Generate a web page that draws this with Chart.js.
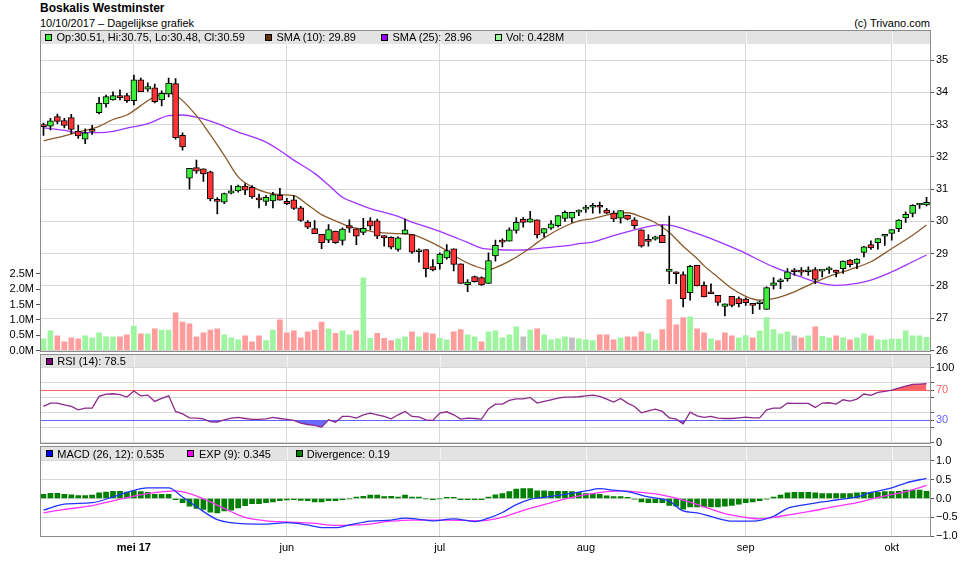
<!DOCTYPE html>
<html lang="nl">
<head>
<meta charset="utf-8">
<title>Boskalis Westminster</title>
<script src="https://cdn.jsdelivr.net/npm/chart.js@4.4.1/dist/chart.umd.min.js"></script>
<style>
  html, body { margin: 0; padding: 0; background: #fff; }
  body { position: relative; width: 970px; height: 572px; overflow: hidden;
         font-family: "Liberation Sans", Arial, sans-serif; font-size: 11px; color: #000; }
  .txt { position: absolute; white-space: nowrap; line-height: 14px; }
  .title { left: 40px; top: 1px; font-size: 12px; font-weight: bold; }
  .sub { left: 40px; top: 16px; }
  .copy { right: 40px; top: 16px; }
  .sq { position: absolute; width: 5px; height: 5px; border: 1px solid #000; }
  .box { position: absolute; left: 0; width: 970px; }
</style>
</head>
<body>
<div class="txt title">Boskalis Westminster</div>
<div class="txt sub">10/10/2017 – Dagelijkse grafiek</div>
<div class="txt copy">(c) Trivano.com</div>

<div class="box" style="top:20px;height:345px"><canvas id="priceChart"></canvas></div>
<div class="box" style="top:340px;height:112px"><canvas id="rsiChart"></canvas></div>
<div class="box" style="top:432px;height:140px"><canvas id="macdChart"></canvas></div>

<script>
// trading days per month (2017)
const daysApr = [10, 11, 12, 13, 18, 19, 20, 21, 24, 25, 26, 27, 28];
const daysMei = [2, 3, 4, 5, 8, 9, 10, 11, 12, 15, 16, 17, 18, 19, 22, 23, 24, 25, 26, 29, 30, 31];
const daysJun = [1, 2, 5, 6, 7, 8, 9, 12, 13, 14, 15, 16, 19, 20, 21, 22, 23, 26, 27, 28, 29, 30];
const daysJul = [3, 4, 5, 6, 7, 10, 11, 12, 13, 14, 17, 18, 19, 20, 21, 24, 25, 26, 27, 28, 31];
const daysAug = [1, 2, 3, 4, 7, 8, 9, 10, 11, 14, 15, 16, 17, 18, 21, 22, 23, 24, 25, 28, 29, 30, 31];
const daysSep = [1, 4, 5, 6, 7, 8, 11, 12, 13, 14, 15, 18, 19, 20, 21, 22, 25, 26, 27, 28, 29];
const daysOkt = [2, 3, 4, 5, 6, 9];
const monthLabels = ['mei 17', 'jun', 'jul', 'aug', 'sep', 'okt'];

const open = [
  33.00, 32.95, 33.25, 33.13, 33.22, 32.80, 32.55, 32.85, 33.37, 33.64,
  33.77, 33.85, 33.90, 33.74, 34.39, 34.10, 34.14, 33.77, 33.95, 34.27,
  32.67, 31.34, 31.67, 31.63, 31.54, 30.63, 30.60, 30.88, 30.95, 31.10,
  31.06, 30.68, 30.62, 30.64, 30.81, 30.62, 30.67, 30.42, 29.98, 29.78,
  29.60, 29.42, 29.70, 29.41, 29.87, 29.77, 29.66, 30.02, 30.02, 29.56,
  29.51, 29.13, 29.61, 29.59, 29.06, 29.13, 28.60, 28.69, 28.87, 29.15,
  28.69, 28.04, 28.29, 28.26, 28.08, 28.93, 29.37, 29.39, 29.72, 30.07,
  29.98, 30.05, 29.64, 29.79, 29.87, 30.09, 30.10, 30.29, 30.38, 30.44,
  30.45, 30.35, 30.26, 30.10, 30.20, 30.05, 29.74, 29.39, 29.45, 29.57,
  28.45, 28.39, 28.35, 27.79, 28.64, 28.02, 27.77, 27.71, 27.37, 27.68,
  27.61, 27.59, 27.41, 27.45, 27.27, 28.02, 28.13, 28.23, 28.46, 28.45,
  28.44, 28.51, 28.46, 28.50, 28.49, 28.54, 28.80, 28.70, 29.04, 29.28,
  29.34, 29.54, 29.63, 29.78, 30.11, 30.25, 30.51, 30.51
];
const high = [
  33.05, 33.20, 33.33, 33.20, 33.32, 32.98, 32.87, 32.98, 33.85, 33.92,
  34.02, 34.08, 33.97, 34.54, 34.44, 34.30, 34.26, 34.05, 34.44, 34.43,
  32.75, 31.65, 31.90, 31.63, 31.56, 30.74, 30.88, 31.11, 31.13, 31.17,
  31.11, 30.85, 30.80, 30.90, 31.03, 30.72, 30.80, 30.47, 30.03, 30.03,
  29.60, 29.90, 29.70, 29.80, 30.05, 29.77, 30.10, 30.12, 30.07, 29.56,
  29.52, 29.52, 30.07, 29.59, 29.15, 29.13, 28.82, 29.03, 29.28, 29.15,
  28.69, 28.20, 28.31, 28.28, 29.03, 29.42, 29.46, 29.80, 30.12, 30.12,
  30.31, 30.05, 29.78, 30.03, 30.18, 30.33, 30.28, 30.36, 30.50, 30.56,
  30.60, 30.41, 30.33, 30.34, 30.20, 30.12, 29.74, 29.59, 29.55, 29.88,
  30.17, 28.44, 28.44, 28.64, 28.64, 28.13, 28.07, 27.71, 27.45, 27.68,
  27.66, 27.63, 27.45, 27.54, 27.97, 28.26, 28.23, 28.54, 28.54, 28.57,
  28.59, 28.57, 28.49, 28.59, 28.49, 28.78, 28.82, 28.85, 29.23, 29.40,
  29.47, 29.60, 29.75, 30.06, 30.30, 30.52, 30.56, 30.75
];
const low = [
  32.67, 32.84, 33.03, 32.90, 32.72, 32.57, 32.41, 32.70, 33.33, 33.54,
  33.76, 33.77, 33.69, 33.61, 34.02, 34.03, 33.67, 33.58, 33.86, 32.55,
  32.21, 31.00, 31.49, 31.24, 30.64, 30.23, 30.55, 30.85, 30.91, 30.83,
  30.71, 30.42, 30.50, 30.42, 30.66, 30.52, 30.37, 30.00, 29.78, 29.62,
  29.16, 29.34, 29.32, 29.27, 29.66, 29.28, 29.59, 29.74, 29.47, 29.23,
  29.15, 29.08, 29.61, 29.01, 28.74, 28.28, 28.47, 28.52, 28.83, 28.47,
  28.08, 27.82, 28.12, 28.02, 28.08, 28.77, 29.21, 29.39, 29.64, 29.82,
  29.98, 29.49, 29.51, 29.75, 29.83, 30.00, 29.97, 30.18, 30.28, 30.26,
  30.26, 30.24, 29.99, 29.95, 30.05, 29.78, 29.20, 29.23, 29.42, 29.34,
  28.07, 28.07, 27.35, 27.56, 28.00, 27.66, 27.76, 27.40, 27.07, 27.35,
  27.35, 27.40, 27.14, 27.27, 27.27, 27.90, 27.92, 28.15, 28.33, 28.33,
  28.33, 28.07, 28.28, 28.39, 28.28, 28.39, 28.59, 28.54, 28.90, 29.13,
  29.14, 29.26, 29.42, 29.68, 29.97, 30.14, 30.40, 30.48
];
const close = [
  32.94, 33.12, 33.10, 32.98, 32.85, 32.65, 32.75, 32.79, 33.67, 33.87,
  33.90, 33.84, 33.74, 34.39, 34.02, 34.18, 33.71, 33.97, 34.29, 32.60,
  32.31, 31.65, 31.56, 31.47, 30.70, 30.62, 30.86, 30.95, 31.10, 30.97,
  30.76, 30.67, 30.75, 30.83, 30.66, 30.55, 30.40, 30.03, 29.82, 29.62,
  29.34, 29.75, 29.34, 29.76, 29.79, 29.54, 29.79, 29.85, 29.54, 29.49,
  29.20, 29.49, 29.74, 29.05, 29.07, 28.54, 28.50, 28.99, 29.10, 28.67,
  28.08, 28.12, 28.13, 28.03, 28.79, 29.26, 29.36, 29.74, 29.97, 29.97,
  30.08, 29.58, 29.78, 29.93, 30.18, 30.28, 30.28, 30.30, 30.38, 30.45,
  30.44, 30.26, 30.08, 30.34, 30.07, 29.87, 29.23, 29.38, 29.52, 29.34,
  28.52, 28.38, 27.61, 28.61, 28.00, 27.66, 27.76, 27.49, 27.45, 27.40,
  27.45, 27.48, 27.40, 27.45, 27.95, 28.10, 28.13, 28.44, 28.44, 28.43,
  28.46, 28.20, 28.47, 28.51, 28.42, 28.77, 28.66, 28.83, 29.21, 29.18,
  29.47, 29.60, 29.75, 30.04, 30.22, 30.50, 30.52, 30.59
];
// volume in millions
const volume = [
  0.38, 0.64, 0.48, 0.28, 0.41, 0.38, 0.48, 0.41, 0.58, 0.45,
  0.45, 0.45, 0.51, 0.80, 0.54, 0.54, 0.71, 0.67, 0.67, 1.23,
  0.93, 0.87, 0.45, 0.58, 0.67, 0.71, 0.51, 0.41, 0.35, 0.48,
  0.28, 0.48, 0.32, 0.67, 1.00, 0.58, 0.64, 0.41, 0.61, 0.67,
  0.93, 0.71, 0.56, 0.64, 0.51, 0.64, 2.37, 0.40, 0.56, 0.40,
  0.32, 0.38, 0.45, 0.61, 0.45, 0.58, 0.54, 0.40, 0.35, 0.61,
  0.68, 0.51, 0.45, 0.28, 0.61, 0.64, 0.41, 0.51, 0.77, 0.45,
  0.67, 0.71, 0.51, 0.35, 0.38, 0.45, 0.41, 0.38, 0.35, 0.32,
  0.51, 0.51, 0.35, 0.41, 0.45, 0.45, 0.61, 0.54, 0.35, 0.68,
  1.66, 0.84, 1.07, 1.10, 0.71, 0.58, 0.38, 0.32, 0.58, 0.48,
  0.41, 0.49, 0.41, 0.64, 1.07, 0.68, 0.54, 0.61, 0.48, 0.41,
  0.48, 0.77, 0.46, 0.41, 0.48, 0.41, 0.35, 0.41, 0.54, 0.48,
  0.35, 0.35, 0.37, 0.37, 0.64, 0.48, 0.48, 0.428
];
// moving averages: [day index, value]
const sma10Pts = [
  [0, 32.50], [3, 32.65], [5, 32.77], [8, 32.95], [10, 33.16], [12, 33.30], [14, 33.59],
  [16, 33.87], [18, 33.97], [19, 33.92], [22, 33.28], [24, 32.68], [26, 32.05], [28, 31.38],
  [30, 31.07], [32, 30.90], [34, 30.83], [36, 30.80], [38, 30.52], [40, 30.21], [42, 30.02],
  [44, 29.84], [46, 29.75], [48, 29.66], [51, 29.62], [53, 29.59], [56, 29.33], [58, 29.10],
  [60, 28.82], [62, 28.62], [64, 28.51], [65, 28.57], [67, 28.77], [69, 29.03], [72, 29.49],
  [75, 29.85], [77, 30.02], [79, 30.09], [82, 30.24], [84, 30.27], [86, 30.14], [88, 29.96],
  [90, 29.66], [92, 29.23], [94, 28.85], [95, 28.63], [97, 28.27], [99, 27.92], [101, 27.68],
  [103, 27.56], [105, 27.61], [108, 27.82], [110, 28.02], [113, 28.30], [116, 28.51],
  [119, 28.75], [122, 29.16], [125, 29.57], [127, 29.89]
];
const sma25Pts = [
  [0, 32.90], [3, 32.82], [5, 32.75], [8, 32.75], [10, 32.79], [12, 32.89], [15, 33.03],
  [18, 33.28], [20, 33.30], [22, 33.23], [25, 33.03], [28, 32.77], [32, 32.46], [34, 32.20],
  [36, 31.90], [39, 31.49], [41, 31.13], [43, 30.75], [45, 30.56], [47, 30.40], [49, 30.28],
  [51, 30.16], [53, 29.98], [55, 29.84], [57, 29.69], [59, 29.52], [61, 29.35], [63, 29.17],
  [65, 29.13], [68, 29.11], [70, 29.13], [72, 29.18], [75, 29.24], [77, 29.31], [79, 29.36],
  [82, 29.56], [85, 29.74], [87, 29.84], [89, 29.90], [91, 29.84], [93, 29.70], [96, 29.47],
  [100, 29.11], [105, 28.59], [109, 28.28], [111, 28.13], [114, 28.02], [117, 28.08],
  [119, 28.18], [122, 28.44], [125, 28.75], [127, 28.96]
];
const rsi = [
  48.2, 52.7, 52.7, 50.4, 48.2, 43.8, 46.0, 46.0, 61.6, 64.7,
  65.1, 63.8, 60.7, 68.7, 62.4, 63.3, 54.9, 58.9, 62.4, 41.6,
  38.4, 33.1, 32.7, 31.8, 27.8, 27.3, 30.4, 32.7, 33.6, 32.2,
  30.9, 30.9, 31.8, 33.6, 32.2, 30.9, 29.6, 26.0, 24.2, 22.9,
  20.7, 30.4, 27.3, 34.9, 34.9, 32.7, 37.1, 39.3, 37.1, 34.9,
  31.8, 37.1, 41.6, 34.9, 34.4, 30.4, 29.6, 39.3, 41.1, 37.1,
  31.3, 32.7, 32.2, 31.3, 45.0, 51.3, 51.3, 56.2, 58.4, 58.4,
  60.2, 52.7, 54.9, 57.1, 59.3, 60.7, 60.7, 61.1, 62.4, 63.3,
  61.6, 58.0, 54.0, 58.9, 52.7, 48.2, 39.8, 42.4, 44.7, 41.6,
  33.1, 31.3, 25.1, 40.7, 35.8, 33.6, 34.9, 32.7, 32.2, 32.2,
  33.1, 34.0, 33.1, 33.1, 43.8, 46.0, 46.0, 52.7, 52.2, 52.2,
  52.2, 46.9, 52.7, 53.1, 51.3, 57.1, 55.3, 58.0, 64.7, 62.9,
  66.9, 68.2, 70.0, 72.7, 75.3, 77.6, 78.0, 78.5
];
const macdPts = [
  [0, -0.31], [3, -0.15], [7, -0.11], [10, 0.04], [12, 0.16], [15, 0.28], [18, 0.28],
  [20, 0.04], [22, -0.22], [25, -0.56], [27, -0.64], [32, -0.68], [35, -0.64], [38, -0.70],
  [40, -0.77], [42, -0.77], [44, -0.70], [47, -0.60], [50, -0.57], [52, -0.52], [54, -0.55],
  [56, -0.59], [59, -0.54], [62, -0.61], [64, -0.52], [66, -0.37], [68, -0.16], [70, -0.02],
  [72, 0.03], [75, 0.11], [78, 0.20], [80, 0.26], [82, 0.22], [84, 0.18], [87, 0.04],
  [90, -0.07], [92, -0.33], [94, -0.38], [97, -0.53], [99, -0.60], [102, -0.60], [105, -0.47],
  [107, -0.26], [110, -0.15], [112, -0.09], [114, -0.04], [117, 0.04], [119, 0.16],
  [122, 0.28], [124, 0.41], [127, 0.535]
];
const expPts = [
  [0, -0.38], [3, -0.29], [7, -0.19], [10, -0.06], [13, 0.06], [15, 0.13], [19, 0.20],
  [21, 0.13], [24, -0.09], [27, -0.35], [29, -0.50], [32, -0.59], [35, -0.62], [39, -0.66],
  [42, -0.71], [46, -0.69], [50, -0.60], [53, -0.57], [58, -0.57], [63, -0.59], [65, -0.54],
  [67, -0.44], [70, -0.26], [73, -0.11], [76, 0.03], [79, 0.13], [83, 0.20], [86, 0.16],
  [89, 0.09], [92, -0.04], [95, -0.22], [98, -0.40], [101, -0.50], [103, -0.54], [106, -0.47],
  [110, -0.35], [113, -0.24], [117, -0.11], [120, 0.03], [124, 0.18], [127, 0.345]
];
const divergence = [
  0.11, 0.14, 0.14, 0.11, 0.10, 0.08, 0.08, 0.09, 0.15, 0.17,
  0.19, 0.19, 0.17, 0.20, 0.18, 0.16, 0.11, 0.11, 0.11, -0.03,
  -0.11, -0.20, -0.26, -0.29, -0.36, -0.38, -0.33, -0.31, -0.25, -0.19,
  -0.14, -0.14, -0.11, -0.09, -0.06, -0.04, -0.03, -0.05, -0.06, -0.09,
  -0.09, -0.06, -0.06, -0.03, -0.01, 0.04, 0.06, 0.09, 0.09, 0.05,
  0.06, 0.04, 0.09, 0.04, 0.04, -0.01, -0.03, -0.01, 0.03, 0.03,
  -0.03, -0.03, -0.03, -0.03, 0.04, 0.10, 0.13, 0.18, 0.25, 0.26,
  0.26, 0.20, 0.20, 0.19, 0.19, 0.19, 0.18, 0.16, 0.13, 0.13,
  0.11, 0.07, 0.05, 0.05, 0.03, -0.02, -0.09, -0.11, -0.11, -0.11,
  -0.18, -0.20, -0.28, -0.22, -0.22, -0.22, -0.22, -0.22, -0.20, -0.18,
  -0.15, -0.11, -0.09, -0.06, -0.02, 0.04, 0.09, 0.15, 0.16, 0.16,
  0.16, 0.15, 0.13, 0.13, 0.13, 0.13, 0.13, 0.15, 0.16, 0.16,
  0.16, 0.18, 0.18, 0.19, 0.22, 0.22, 0.22, 0.19
];
const priceTicks = [26, 27, 28, 29, 30, 31, 32, 33, 34, 35];
const volTicks = [0, 0.5, 1, 1.5, 2, 2.5];
const rsiTicks = [0, 20, 30, 40, 60, 70, 80, 100];
const rsiLabelled = [0, 30, 70, 100];
const macdTicks = [-1, -0.5, 0, 0.5, 1];

// ---- derived tables ----
const months = [[4, daysApr], [5, daysMei], [6, daysJun], [7, daysJul], [8, daysAug], [9, daysSep], [10, daysOkt]];
const dates = [];
const monthStarts = [];
months.forEach(([m, days], k) => {
  if (k > 0) monthStarts.push(dates.length);
  days.forEach(d => dates.push('2017-' + String(m).padStart(2, '0') + '-' + String(d).padStart(2, '0')));
});

const last = dates.length - 1;
function lineFrom(pts) {
  const arr = dates.map(() => null);
  pts.forEach(([i, v]) => { arr[i] = v; });
  return arr;
}
const sma10 = lineFrom(sma10Pts);
const sma25 = lineFrom(sma25Pts);
const macd = lineFrom(macdPts);
const expSignal = lineFrom(expPts);

const GREEN = '#3aee3a', RED = '#ff3333';
const bodyColors = close.map((c, i) => c >= open[i] ? GREEN : RED);
const volColors = close.map((c, i) => {
  if (i === 0 || c > close[i - 1]) return '#9ff59f';
  if (c < close[i - 1]) return '#ff9c9c';
  return '#c0c0c0';
});

Chart.defaults.font.family = "'Liberation Sans', Arial, sans-serif";
Chart.defaults.font.size = 11;
Chart.defaults.color = '#000';
Chart.defaults.animation = false;
Chart.defaults.events = [];
Chart.defaults.plugins.legend.display = false;
Chart.defaults.plugins.tooltip.enabled = false;

const GRID = '#d8d8d8';
const FONT = "'Liberation Sans', Arial, sans-serif";

// gray header band above each panel plus the panel frame
const panelFrame = {
  id: 'panelFrame',
  beforeDraw(chart, args, opts) {
    const { ctx, chartArea: a, scales } = chart;
    const top = a.top - opts.band;
    ctx.save();
    ctx.fillStyle = '#e3e3e3';
    ctx.fillRect(a.left, top, a.right - a.left, opts.band);
    ctx.strokeStyle = '#f4f4f4';
    ctx.lineWidth = 1;
    scales.x.ticks.forEach((t, k) => {
      const x = Math.round(scales.x.getPixelForTick(k)) + 0.5;
      ctx.beginPath();
      ctx.moveTo(x, top);
      ctx.lineTo(x, a.top);
      ctx.stroke();
    });
    ctx.restore();
  },
  afterDraw(chart, args, opts) {
    const { ctx, chartArea: a } = chart;
    ctx.save();
    ctx.strokeStyle = '#8c8c8c';
    ctx.lineWidth = 1;
    const l = Math.round(a.left) + 0.5, t = Math.round(a.top - opts.band) + 0.5;
    const r = Math.round(a.right) + 0.5, b = Math.round(a.bottom) + 0.5;
    ctx.strokeRect(l, t, r - l, b - t);
    ctx.restore();
  }
};

function xScale(showLabels) {
  return {
    type: 'category',
    offset: true,
    afterBuildTicks: ax => { ax.ticks = monthStarts.map(v => ({ value: v })); },
    afterFit: ax => { ax.height = showLabels ? 28 : 0; },
    grid: { offset: false, color: GRID, drawTicks: false },
    border: { display: false },
    ticks: {
      display: showLabels,
      autoSkip: false,
      maxRotation: 0,
      padding: 5,
      callback: (v, k) => monthLabels[k],
      font: c => ({ family: FONT, size: 11, weight: c.index === 0 ? 'bold' : 'normal' })
    }
  };
}

function rightAxis(min, max, ticks, extra) {
  const axis = {
    position: 'right',
    min: min,
    max: max,
    afterBuildTicks: ax => { ax.ticks = ticks.map(v => ({ value: v })); },
    afterFit: ax => { ax.width = 40; },
    grid: { color: GRID, tickColor: '#555', tickLength: 4 },
    border: { display: false },
    ticks: { padding: 2 }
  };
  Object.assign(axis, extra || {});
  axis.ticks = Object.assign({ autoSkip: false }, axis.ticks);
  return axis;
}

// 1. Price + volume
new Chart(document.getElementById('priceChart'), {
  type: 'bar',
  data: {
    labels: dates,
    datasets: [
      {
        type: 'line', label: 'SMA (10)', data: sma10, yAxisID: 'y',
        borderColor: '#8b5a2b', borderWidth: 1.3, pointRadius: 0,
        spanGaps: true, cubicInterpolationMode: 'monotone', order: 3
      },
      {
        type: 'line', label: 'SMA (25)', data: sma25, yAxisID: 'y',
        borderColor: '#a033ff', borderWidth: 1.3, pointRadius: 0,
        spanGaps: true, cubicInterpolationMode: 'monotone', order: 3
      },
      {
        label: 'Hi-Lo', data: low.map((l, i) => [l, high[i]]), yAxisID: 'y',
        backgroundColor: '#000', barThickness: 1, grouped: false, order: 2
      },
      {
        label: 'Op-Cl', data: open.map((o, i) => [o, close[i]]), yAxisID: 'y',
        backgroundColor: bodyColors, borderColor: '#000', borderWidth: 1,
        borderSkipped: false, barThickness: 6, minBarLength: 2, grouped: false, order: 1
      },
      {
        label: 'Vol', data: volume, yAxisID: 'yv',
        backgroundColor: volColors, barThickness: 5, grouped: false, order: 5
      }
    ]
  },
  options: {
    responsive: true,
    maintainAspectRatio: false,
    layout: { padding: { left: 0, right: 0, top: 24, bottom: 14.5 } },
    scales: {
      x: xScale(false),
      y: rightAxis(26, 35.5, priceTicks),
      yv: {
        position: 'left',
        min: 0,
        max: 10,
        afterBuildTicks: ax => { ax.ticks = volTicks.map(v => ({ value: v })); },
        afterFit: ax => { ax.width = 40; },
        grid: { drawOnChartArea: false, tickColor: '#555', tickLength: 4 },
        border: { display: false },
        ticks: { autoSkip: false, padding: 2, callback: v => v.toFixed(1) + 'M' }
      }
    },
    plugins: { panelFrame: { band: 14 } }
  },
  plugins: [panelFrame]
});

// 2. RSI
const rsiColor = v => v === 70 ? '#ff6262' : v === 30 ? '#6262ff' : null;
new Chart(document.getElementById('rsiChart'), {
  type: 'line',
  data: {
    labels: dates,
    datasets: [
      { label: 'RSI (14)', data: rsi, borderColor: '#8b2a8b', borderWidth: 1.3, pointRadius: 0, fill: false, order: 0 },
      {
        label: 'boven 70', data: rsi, borderWidth: 0, pointRadius: 0, order: 1,
        fill: { target: { value: 70 }, above: '#ff6666', below: 'rgba(0,0,0,0)' }
      },
      {
        label: 'onder 30', data: rsi, borderWidth: 0, pointRadius: 0, order: 1,
        fill: { target: { value: 30 }, above: 'rgba(0,0,0,0)', below: '#6a6aff' }
      }
    ]
  },
  options: {
    responsive: true,
    maintainAspectRatio: false,
    layout: { padding: { left: 40, right: 0, top: 27.5, bottom: 9.3 } },
    scales: {
      x: xScale(false),
      y: rightAxis(0, 100, rsiTicks, {
        grid: { color: c => rsiColor(c.tick.value) || GRID, tickColor: '#555', tickLength: 4 },
        ticks: {
          padding: 2,
          callback: v => rsiLabelled.includes(v) ? String(v) : '',
          color: c => rsiColor(c.tick.value) || '#000'
        }
      })
    },
    plugins: { panelFrame: { band: 13.5 } }
  },
  plugins: [panelFrame]
});

// 3. MACD
new Chart(document.getElementById('macdChart'), {
  type: 'bar',
  data: {
    labels: dates,
    datasets: [
      {
        type: 'line', label: 'MACD (26, 12)', data: macd, borderColor: '#2233ff', borderWidth: 1.3,
        pointRadius: 0, spanGaps: true, cubicInterpolationMode: 'monotone', order: 1
      },
      {
        type: 'line', label: 'EXP (9)', data: expSignal, borderColor: '#ff33ff', borderWidth: 1.3,
        pointRadius: 0, spanGaps: true, cubicInterpolationMode: 'monotone', order: 2
      },
      { label: 'Divergence', data: divergence, backgroundColor: '#008000', barThickness: 5, order: 3 }
    ]
  },
  options: {
    responsive: true,
    maintainAspectRatio: false,
    layout: { padding: { left: 40, right: 0, top: 28.7, bottom: 7.7 } },
    scales: {
      x: xScale(true),
      y: rightAxis(-1, 1, macdTicks, {
        ticks: { padding: 2, callback: v => (v < 0 ? '\u2212' : '') + Math.abs(v).toFixed(1) }
      })
    },
    plugins: { panelFrame: { band: 14.7 } }
  },
  plugins: [panelFrame]
});

// header legends
function legendItem(sqX, textX, cy, color, text) {
  const sq = document.createElement('div');
  sq.className = 'sq';
  sq.style.left = sqX + 'px';
  sq.style.top = (cy - 3.5) + 'px';
  sq.style.background = color;
  document.body.appendChild(sq);
  const t = document.createElement('div');
  t.className = 'txt';
  t.style.left = textX + 'px';
  t.style.top = (cy - 7) + 'px';
  t.textContent = text;
  document.body.appendChild(t);
}
legendItem(45, 56.5, 37, GREEN,
  'Op:' + open[last].toFixed(2) + ', Hi:' + high[last].toFixed(2) +
  ', Lo:' + low[last].toFixed(2) + ', Cl:' + close[last].toFixed(2));
legendItem(265, 276.5, 37, '#663300', 'SMA (10): ' + sma10[last].toFixed(2));
legendItem(381, 392.5, 37, '#9900ff', 'SMA (25): ' + sma25[last].toFixed(2));
legendItem(495, 506, 37, '#99ff99', 'Vol: ' + volume[last] + 'M');
legendItem(46, 57.3, 361, '#800080', 'RSI (14): ' + rsi[last]);
legendItem(46, 57.3, 453.5, '#0000ff', 'MACD (26, 12): ' + macd[last]);
legendItem(187, 199, 453.5, '#ff00ff', 'EXP (9): ' + expSignal[last]);
legendItem(295.5, 306.7, 453.5, '#008000', 'Divergence: ' + divergence[last]);
</script>
</body>
</html>
